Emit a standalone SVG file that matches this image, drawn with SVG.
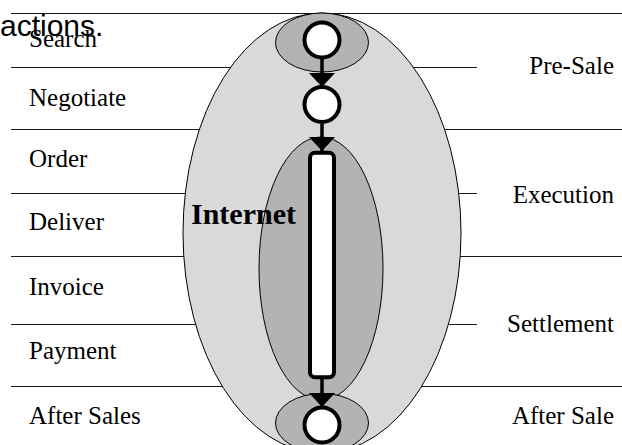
<svg xmlns="http://www.w3.org/2000/svg" width="622" height="445" viewBox="0 0 622 445">
  <style>
    .rule { stroke: #1a1a1a; stroke-width: 1; fill: none; }
    .lbl { font-family: "Liberation Serif", "Times New Roman", serif; font-size: 25px; fill: #000; }
    .lbl-r { text-anchor: end; }
    .zone-outer { fill: #d9d9d9; stroke: #000; stroke-width: 1; }
    .zone-inner { fill: #b3b3b3; stroke: #000; stroke-width: 1; }
    .step { fill: #fff; stroke: #000; stroke-width: 4; }
    .flow { stroke: #000; stroke-width: 3.5; fill: none; }
  </style>
  <defs>
    <marker id="arrow" markerUnits="userSpaceOnUse" markerWidth="14" markerHeight="26" viewBox="0 0 14 26" refX="14" refY="13" orient="auto">
      <path d="M0,0 L14,13 L0,26 Z" fill="#000"/>
    </marker>
  </defs>

  <rect width="622" height="445" fill="#fff"/>

  <!-- heading fragment -->
  <text x="0" y="36" font-family="'Liberation Sans', Arial, sans-serif" font-size="30" fill="#000">actions.</text>

  <!-- row separators and phase ticks -->
  <g id="rules">
    <line class="rule" x1="11" y1="13.5" x2="622" y2="13.5"/>
    <line class="rule" x1="11" y1="67.5" x2="477" y2="67.5"/>
    <line class="rule" x1="11" y1="129.5" x2="622" y2="129.5"/>
    <line class="rule" x1="11" y1="193.5" x2="477" y2="193.5"/>
    <line class="rule" x1="11" y1="256.5" x2="622" y2="256.5"/>
    <line class="rule" x1="11" y1="324.5" x2="477" y2="324.5"/>
    <line class="rule" x1="11" y1="386.5" x2="622" y2="386.5"/>
  </g>

  <!-- activity labels -->
  <g id="activities">
    <text class="lbl" x="29" y="47">Search</text>
    <text class="lbl" x="29" y="105.5">Negotiate</text>
    <text class="lbl" x="29" y="167">Order</text>
    <text class="lbl" x="29" y="230">Deliver</text>
    <text class="lbl" x="29" y="295">Invoice</text>
    <text class="lbl" x="29" y="359">Payment</text>
    <text class="lbl" x="29" y="424">After Sales</text>
  </g>

  <!-- phase labels -->
  <g id="phases">
    <text class="lbl lbl-r" x="614" y="74">Pre-Sale</text>
    <text class="lbl lbl-r" x="614" y="203">Execution</text>
    <text class="lbl lbl-r" x="614" y="332">Settlement</text>
    <text class="lbl lbl-r" x="614" y="424">After Sale</text>
  </g>

  <!-- outer internet zone -->
  <g id="internet">
    <ellipse class="zone-outer" cx="322" cy="233" rx="139" ry="220"/>
  </g>

  <!-- inner zones -->
  <g id="zone-presale">
    <ellipse class="zone-inner" cx="322" cy="42.5" rx="46.5" ry="29.5"/>
  </g>
  <g id="zone-execution">
    <ellipse class="zone-inner" cx="321" cy="268.5" rx="62" ry="131.5"/>
  </g>
  <g id="zone-aftersale">
    <ellipse class="zone-inner" cx="322" cy="423" rx="46.5" ry="29.5"/>
  </g>

  <g id="internet-label">
    <text x="191" y="224" font-family="'Liberation Serif', 'Times New Roman', serif" font-size="30" font-weight="bold" fill="#000">Internet</text>
  </g>

  <!-- connectors -->
  <g id="connectors">
    <line class="flow" x1="322" y1="59" x2="322" y2="87" marker-end="url(#arrow)"/>
    <line class="flow" x1="322" y1="124" x2="322" y2="151" marker-end="url(#arrow)"/>
    <line class="flow" x1="322" y1="379" x2="322" y2="407" marker-end="url(#arrow)"/>
  </g>

  <!-- process steps -->
  <g id="step-search">
    <circle class="step" cx="322" cy="40" r="17.5"/>
  </g>
  <g id="step-negotiate">
    <circle class="step" cx="322" cy="104.5" r="17.5"/>
  </g>
  <g id="step-execution">
    <rect class="step" x="310" y="152.7" width="24" height="224.5" rx="5" ry="5"/>
  </g>
  <g id="step-aftersale">
    <circle class="step" cx="322" cy="425" r="17.5"/>
  </g>
</svg>
